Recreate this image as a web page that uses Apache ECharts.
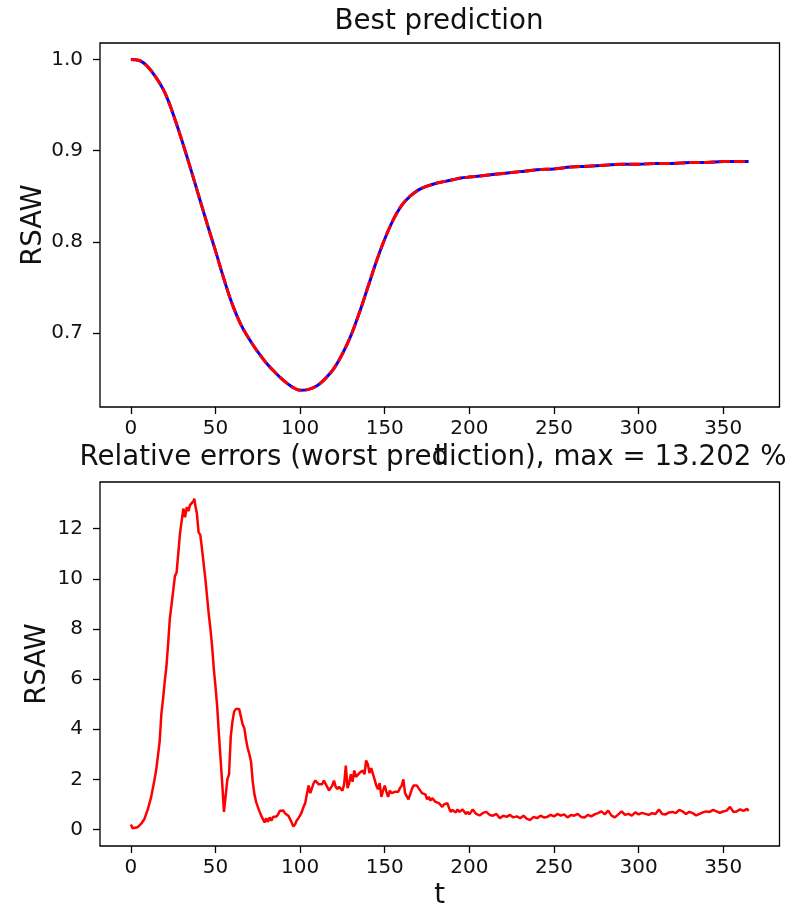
<!DOCTYPE html>
<html>
<head>
<meta charset="utf-8">
<script src="https://cdn.jsdelivr.net/npm/echarts@6/dist/echarts.min.js"></script>
<style>
  html, body { margin: 0; padding: 0; background: #fff; }
  #chart { width: 794px; height: 911px; }
</style>
</head>
<body>
<div id="chart"></div>
<script>
// top panel: RSAW over t (target and best prediction overlap)
const bestT = [0, 5, 10, 15, 20, 25, 30, 35, 40, 45, 50, 55, 60, 65, 70, 75, 80, 85, 90, 95,
  100, 105, 110, 115, 120, 125, 130, 135, 140, 145, 150, 155, 160, 165, 170, 175, 180, 185, 190, 195,
  200, 210, 220, 230, 240, 250, 260, 270, 280, 290, 300, 310, 320, 330, 340, 350, 360, 365];
const bestVals = [1.000, 0.999, 0.992, 0.980, 0.964, 0.940, 0.912, 0.882, 0.851, 0.820, 0.790, 0.759, 0.731, 0.709, 0.693, 0.679, 0.667, 0.657, 0.648, 0.641,
  0.637, 0.638, 0.642, 0.650, 0.661, 0.677, 0.697, 0.722, 0.750, 0.778, 0.803, 0.824, 0.840, 0.850, 0.857, 0.861, 0.864, 0.866, 0.868, 0.870,
  0.871, 0.873, 0.875, 0.877, 0.879, 0.880, 0.882, 0.883, 0.884, 0.885, 0.885, 0.886, 0.886, 0.887, 0.887, 0.888, 0.888, 0.888];

// bottom panel: relative error of the worst prediction, [t, %]
const errPoints = [
  [0, 0.20], [1, 0.05], [2, 0.02], [4, 0.09], [6, 0.22], [8, 0.42], [10, 0.80], [12, 1.30], [14, 2.00], [15, 2.40],
  [17, 3.50], [18, 4.60], [19, 5.20], [20, 5.90], [21, 6.50], [22, 7.40], [23, 8.40], [24, 8.95], [25, 9.00], [26, 10.10],
  [27, 10.25], [28, 11.00], [29, 11.80], [30, 12.30], [31, 12.80], [32, 12.45], [33, 12.85], [34, 12.70], [35, 12.95], [36, 12.90],
  [37, 13.10], [37.5, 13.20], [38, 12.95], [39, 12.60], [40, 11.85], [41, 11.75], [42, 11.20], [43, 11.15], [44, 10.00], [45, 9.30],
  [46, 8.60], [47, 8.00], [48, 7.30], [49, 6.40], [50, 5.70], [51, 4.90], [52, 3.80], [53, 2.80], [54, 1.80], [55, 0.70],
  [56, 0.75], [57, 2.00], [58, 2.20], [59, 3.70], [60, 4.30], [61, 4.70], [62, 4.80], [63, 4.75], [64, 4.80], [65, 4.50],
  [66, 4.20], [67, 4.05], [68, 3.60], [69, 3.25], [70, 3.00], [71, 2.70], [72, 1.90], [73, 1.40], [74, 1.10], [75, 0.90],
  [76, 0.72], [77, 0.55], [78, 0.50], [79, 0.28], [80, 0.45], [81, 0.30], [82, 0.48], [83, 0.35], [84, 0.50], [85, 0.45],
  [86, 0.52], [87, 0.60], [88, 0.75], [89, 0.78], [90, 0.76], [91, 0.65], [92, 0.62], [93, 0.55], [94, 0.42], [95, 0.28],
  [96, 0.12], [97, 0.20], [98, 0.36], [99, 0.45], [100, 0.56], [101, 0.70], [102, 0.90], [103, 1.05], [104, 1.40], [105, 1.75],
  [106, 1.45], [107, 1.65], [108, 1.85], [109, 1.95], [110, 1.90], [111, 1.80], [112, 1.85], [113, 1.80], [114, 1.95], [115, 1.90],
  [116, 1.70], [117, 1.55], [118, 1.65], [119, 1.75], [120, 1.95], [121, 1.70], [122, 1.62], [123, 1.70], [124, 1.65], [125, 1.55],
  [126, 1.80], [127, 2.55], [128, 1.65], [129, 1.85], [130, 2.20], [131, 1.90], [132, 2.35], [133, 2.10], [134, 2.05], [135, 2.25],
  [136, 2.30], [137, 2.35], [138, 2.20], [139, 2.75], [140, 2.60], [141, 2.25], [142, 2.45], [143, 2.40], [144, 2.00], [145, 1.75],
  [146, 1.60], [147, 1.85], [148, 1.30], [149, 1.55], [150, 1.75], [151, 1.50], [152, 1.30], [153, 1.55], [154, 1.45], [155, 1.40],
  [156, 1.50], [157, 1.45], [158, 1.50], [159, 1.65], [160, 1.75], [161, 2.00], [162, 1.45], [163, 1.40], [164, 1.20], [165, 1.15],
  [166, 1.60], [167, 1.75], [168, 1.70], [169, 1.75], [170, 1.65], [171, 1.60], [172, 1.45], [173, 1.50], [174, 1.40], [175, 1.20],
  [176, 1.30], [177, 1.15], [178, 1.25], [179, 1.30], [180, 1.10], [181, 1.15], [182, 1.05], [183, 1.00], [184, 0.90], [185, 1.00],
  [186, 0.95], [187, 1.05], [188, 0.85], [189, 0.70], [190, 0.78], [191, 0.72], [192, 0.68], [193, 0.80], [194, 0.70], [195, 0.65],
  [196, 0.80], [197, 0.75], [198, 0.62], [199, 0.70], [200, 0.60], [202, 0.80], [204, 0.62], [206, 0.56], [208, 0.66], [210, 0.70],
  [212, 0.58], [214, 0.55], [216, 0.62], [218, 0.45], [220, 0.55], [222, 0.50], [224, 0.58], [226, 0.48], [228, 0.52], [230, 0.45],
  [232, 0.55], [234, 0.42], [236, 0.38], [238, 0.50], [240, 0.45], [242, 0.55], [244, 0.48], [246, 0.50], [248, 0.58], [250, 0.52],
  [252, 0.62], [254, 0.55], [256, 0.60], [258, 0.48], [260, 0.58], [262, 0.55], [264, 0.62], [266, 0.50], [268, 0.48], [270, 0.58],
  [272, 0.52], [274, 0.60], [276, 0.65], [278, 0.72], [280, 0.60], [282, 0.75], [284, 0.55], [286, 0.48], [288, 0.60], [290, 0.72],
  [292, 0.58], [294, 0.62], [296, 0.55], [298, 0.68], [300, 0.60], [302, 0.66], [304, 0.62], [306, 0.58], [308, 0.65], [310, 0.62],
  [312, 0.80], [314, 0.62], [316, 0.60], [318, 0.68], [320, 0.70], [322, 0.65], [324, 0.78], [326, 0.72], [328, 0.62], [330, 0.70],
  [332, 0.65], [334, 0.56], [336, 0.62], [338, 0.68], [340, 0.72], [342, 0.70], [344, 0.78], [346, 0.72], [348, 0.66], [350, 0.72],
  [352, 0.75], [354, 0.90], [356, 0.70], [358, 0.72], [360, 0.80], [362, 0.74], [364, 0.82], [365, 0.74]
];

const xTicks = [0, 50, 100, 150, 200, 250, 300, 350];
const topYTicks = [0.7, 0.8, 0.9, 1.0];
const bottomYTicks = [0, 2, 4, 6, 8, 10, 12];
const maxErr = 13.202;

const FONT = "DejaVu Sans";
const INK = "#111";

const bestData = bestT.map((t, i) => [t, bestVals[i]]);

function xAxisFor(gridIndex) {
  return {
    type: "value",
    gridIndex,
    min: -18.25,
    max: 383.25,
    name: "t",
    nameLocation: "middle",
    nameGap: 36,
    nameMoveOverlap: false,
    nameTextStyle: { color: INK, fontSize: 27.5, fontFamily: FONT },
    axisLine: { show: false, onZero: false },
    axisTick: { show: true, length: 7, customValues: xTicks, lineStyle: { color: "#000", width: 1.3 } },
    axisLabel: { customValues: xTicks, color: INK, fontSize: 20, fontFamily: FONT, margin: 12 },
    splitLine: { show: false },
  };
}

function yAxisFor(gridIndex, min, max, ticks, fmt, gap) {
  return {
    type: "value",
    gridIndex,
    min,
    max,
    name: "RSAW",
    nameLocation: "middle",
    nameGap: gap,
    nameMoveOverlap: false,
    nameTextStyle: { color: INK, fontSize: 27.5, fontFamily: FONT },
    axisLine: { show: false, onZero: false },
    axisTick: { show: true, length: 7, customValues: ticks, lineStyle: { color: "#000", width: 1.3 } },
    axisLabel: { customValues: ticks, color: INK, fontSize: 20, fontFamily: FONT, margin: 17, formatter: fmt },
    splitLine: { show: false },
  };
}

const chart = echarts.init(document.getElementById("chart"), null, { renderer: "canvas" });

chart.setOption({
  backgroundColor: "#fff",
  animation: false,
  title: [
    {
      text: "Best prediction",
      left: 439, top: 8, textAlign: "center", padding: 0,
      textStyle: { color: INK, fontSize: 27.7, fontWeight: "normal", fontFamily: FONT },
    },
    {
      text: `Relative errors (worst prediction), max = ${maxErr} %`,
      left: 433, top: 444, textAlign: "center", padding: 0,
      textStyle: { color: INK, fontSize: 27.7, fontWeight: "normal", fontFamily: FONT },
    },
  ],
  grid: [
    { left: 100, top: 43, width: 679.5, height: 364, show: true, borderColor: "#000", borderWidth: 1.3, backgroundColor: "transparent" },
    { left: 100, top: 482, width: 679.5, height: 364, show: true, borderColor: "#000", borderWidth: 1.3, backgroundColor: "transparent" },
  ],
  xAxis: [xAxisFor(0), xAxisFor(1)],
  yAxis: [
    yAxisFor(0, 0.6186, 1.0182, topYTicks, (v) => v.toFixed(1), 52),
    yAxisFor(1, -0.66, 13.86, bottomYTicks, (v) => String(v), 48),
  ],
  series: [
    {
      type: "line", xAxisIndex: 0, yAxisIndex: 0, data: bestData,
      symbol: "none", smooth: 0.4, z: 2,
      lineStyle: { color: "#0000ff", width: 3 },
    },
    {
      type: "line", xAxisIndex: 0, yAxisIndex: 0, data: bestData,
      symbol: "none", smooth: 0.4, z: 3,
      lineStyle: { color: "#ff0000", width: 3, type: [11, 4] },
    },
    {
      type: "line", xAxisIndex: 1, yAxisIndex: 1, data: errPoints,
      symbol: "none", z: 2,
      lineStyle: { color: "#ff0000", width: 2.5 },
    },
  ],
});
</script>
</body>
</html>
